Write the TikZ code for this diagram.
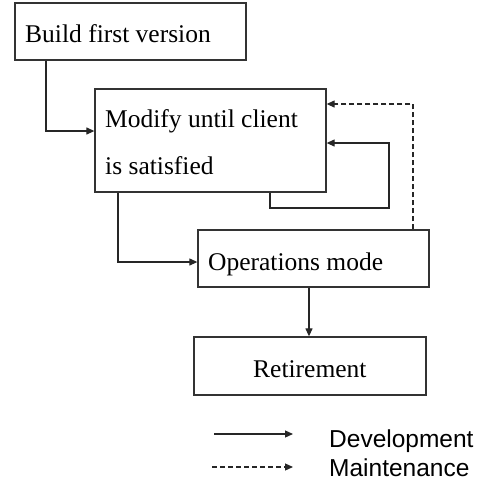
\documentclass[tikz,border=0pt]{standalone}
\usepackage{fontspec}
\setmainfont{Liberation Serif}
\newfontfamily\legendfont{Liberation Sans}
\usetikzlibrary{arrows.meta}
\begin{document}
\begin{tikzpicture}[x=1pt,y=-1pt,
  box/.style={draw=black!80,line width=1.3pt,rectangle,inner sep=0pt},
  btext/.style={anchor=base west,inner sep=0pt,font=\fontsize{25.5}{30}\selectfont},
  ltext/.style={anchor=base west,inner sep=0pt,font=\legendfont\fontsize{24.5}{29}\selectfont},
  conn/.style={line width=1.2pt,black!85,-{Triangle[length=8pt,width=7pt]}},
  maint/.style={conn,dash pattern=on 5pt off 3pt}]
\useasboundingbox (0,0) rectangle (482,483);
% boxes
\node[box,minimum width=231pt,minimum height=57pt] (b1) at (130.5,31.5) {};
\node[box,minimum width=231pt,minimum height=103pt] (b2) at (210.5,140.5) {};
\node[box,minimum width=231pt,minimum height=57pt] (b3) at (313.5,258.5) {};
\node[box,minimum width=232pt,minimum height=58pt] (b4) at (310,366) {};
% texts
\node[btext] (t1) at (25,42) {Build first version};
\node[btext] (t2a) at (105,127) {Modify until client};
\node[btext] (t2b) at (105,174) {is satisfied};
\node[btext] (t3) at (208,270) {Operations mode};
\node[btext] (t4) at (253,377) {Retirement};
% connectors
\coordinate (c1) at (46,131);
\draw[conn] (b1.south -| c1) |- (b2.west |- c1);
\coordinate (c2) at (118,262);
\draw[conn] (b2.south -| c2) |- (b3.west |- c2);
\coordinate (c3) at (270,208);
\coordinate (c3b) at (389,143);
\draw[conn] (b2.south -| c3) -- (c3) -- (c3 -| c3b) -- (c3b) -- (b2.east |- c3b);
\coordinate (c4) at (413,104);
\draw[maint] (b3.north -| c4) |- (b2.east |- c4);
\coordinate (c5) at (309,0);
\draw[conn] (b3.south -| c5) -- (b4.north -| c5);
% legend
\coordinate (l1a) at (214,434);
\coordinate (l1b) at (293,434);
\coordinate (l2a) at (212,467);
\coordinate (l2b) at (293,467);
\draw[conn] (l1a) -- (l1b);
\draw[maint] (l2a) -- (l2b);
\node[ltext] (d) at (329,447.5) {Development};
\node[ltext] (m) at (329,476.5) {Maintenance};
\end{tikzpicture}
\end{document}
